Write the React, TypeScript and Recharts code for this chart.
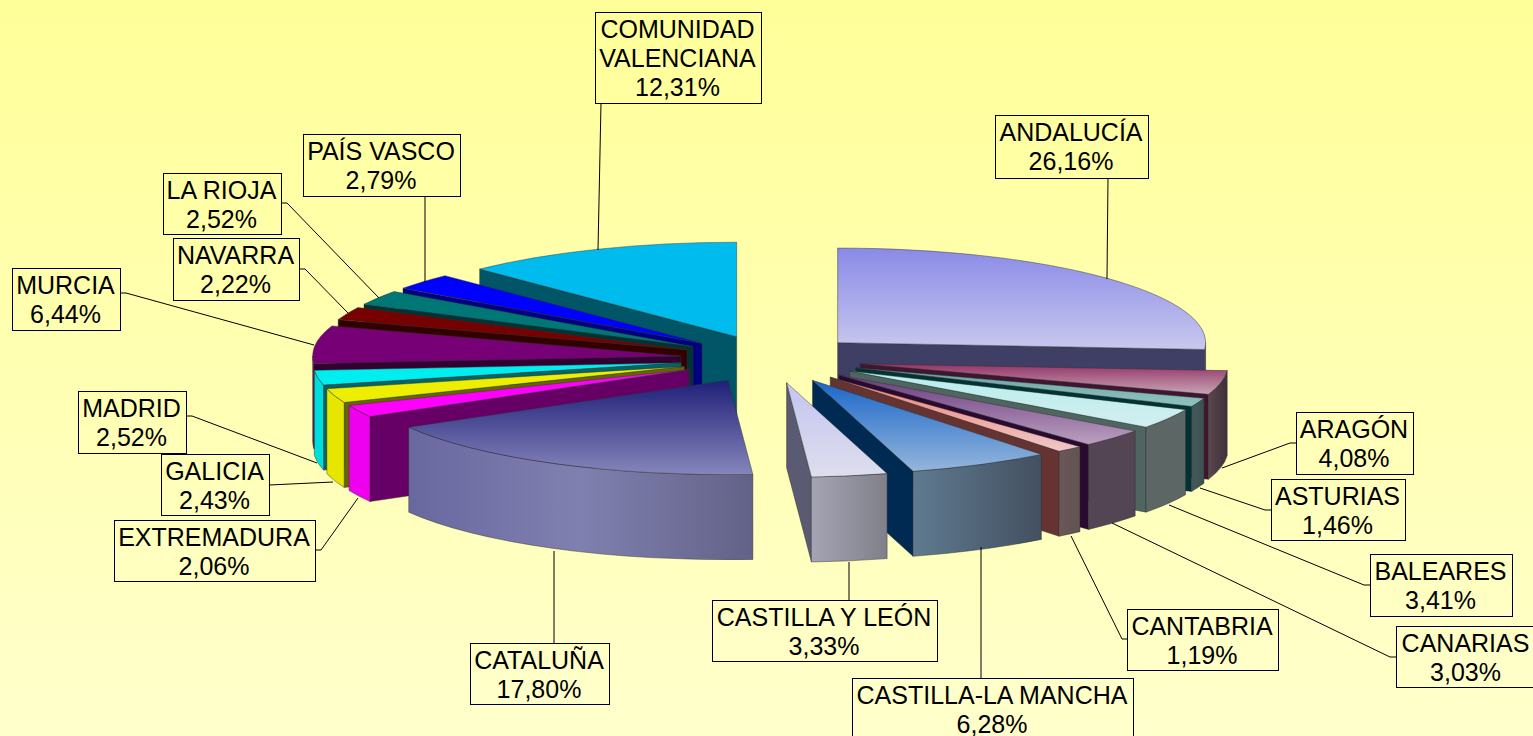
import { PieChart, Pie } from 'recharts';

const REGIONS = [
  'ANDALUCÍA', 'ARAGÓN', 'ASTURIAS', 'BALEARES', 'CANARIAS', 'CANTABRIA',
  'CASTILLA-LA MANCHA', 'CASTILLA Y LEÓN', 'CATALUÑA', 'EXTREMADURA', 'GALICIA',
  'MADRID', 'MURCIA', 'NAVARRA', 'LA RIOJA', 'PAÍS VASCO', 'COMUNIDAD VALENCIANA',
];
const SHARES = [
  26.16, 4.08, 1.46, 3.41, 3.03, 1.19, 6.28, 3.33, 17.8, 2.06, 2.43, 2.52, 6.44, 2.22, 2.52, 2.79,
  12.31,
];
const pieData = REGIONS.map((name, i) => ({ name, value: SHARES[i] }));

// slices on the right of the pie paint clockwise, the ones on the left counter-clockwise
const RIGHT_COUNT = 8;

const WIDTH = 1533;
const HEIGHT = 736;
const CX = 771;
const CY = 359;
const RADIUS = 368;
const SQUASH = 0.257;
const EXPLODE_X = 91;
const EXPLODE_Y = 24;
const DEPTH = 85;

const SLICE_STYLES = [
  { top: ['#8a8ae8', '#c8c8ee'], wall: ['#3f3f66', '#3f3f66'], cut: '#3f3f66' },
  { top: ['#933366', '#c8a4b4'], wall: ['#5a464e', '#40303a'], cut: '#3f1530' },
  { top: ['#66a0a0', '#8fc4c0'], wall: ['#44585a', '#3c5250'], cut: '#003333' },
  { top: ['#b8eeee', '#d2eeee'], wall: ['#5c6664', '#5c6664'], cut: '#4f6660' },
  { top: ['#6a3a80', '#bca0c0'], wall: ['#544555', '#544555'], cut: '#2a0a30' },
  { top: ['#f08070', '#eec8c8'], wall: ['#6a5858', '#625250'], cut: '#663333' },
  { top: ['#1a66c8', '#94b6dc'], wall: ['#5f7a90', '#435060'], cut: '#002a52' },
  { top: ['#c4c4f0', '#dedeee'], wall: ['#a4a4b4', '#80808a'], cut: '#5a5a72' },
  { top: ['#1f1f78', '#8686bc'], wall: ['#6868a0', '#8080b0', '#626288'], cut: '#333366' },
  { top: ['#ff00ff', '#ff00ff'], wall: ['#ee00ee', '#ee00ee'], cut: '#660066' },
  { top: ['#eeee00', '#eeee00'], wall: ['#e6e600', '#e6e600'], cut: '#666600' },
  { top: ['#00eeee', '#00eeee'], wall: ['#00dddd', '#00dddd'], cut: '#006666' },
  { top: ['#770077', '#770077'], wall: ['#660066', '#660066'], cut: '#330033' },
  { top: ['#770000', '#770000'], wall: ['#660000', '#660000'], cut: '#330000' },
  { top: ['#007777', '#007777'], wall: ['#006666', '#006666'], cut: '#003333' },
  { top: ['#0000ff', '#0000ff'], wall: ['#0000dd', '#0000dd'], cut: '#000080' },
  { top: ['#00bbee', '#00bbee'], wall: ['#005666', '#005666'], cut: '#005666' },
];

// box: x, y, width, height; leader: polyline from the box to the slice
const LABEL_LAYOUT = [
  { box: [995, 115, 153, 63], leader: [[1108, 178], [1107, 279]] },
  { box: [1296, 412, 117, 62], leader: [[1296, 443], [1290, 443], [1222, 468]] },
  { box: [1271, 479, 134, 61], leader: [[1271, 510], [1265, 510], [1200, 488]] },
  { box: [1370, 554, 142, 62], leader: [[1370, 585], [1364, 585], [1169, 505]] },
  { box: [1396, 626, 140, 61], leader: [[1396, 657], [1390, 657], [1112, 523]] },
  { box: [1127, 609, 151, 61], leader: [[1127, 639], [1122, 639], [1071, 536]] },
  { box: [852, 678, 281, 64], leader: [[981, 678], [981, 547]] },
  { box: [712, 600, 225, 61], leader: [[849, 600], [849, 562]] },
  { box: [470, 643, 139, 61], leader: [[554, 643], [554, 551]] },
  { box: [114, 520, 201, 61], leader: [[315, 550], [321, 550], [358, 498]] },
  { box: [161, 454, 108, 61], leader: [[269, 485], [333, 482]] },
  { box: [78, 391, 108, 62], leader: [[186, 416], [192, 416], [317, 463]] },
  { box: [12, 268, 108, 62], leader: [[120, 293], [126, 293], [314, 345]] },
  { box: [173, 238, 126, 62], leader: [[299, 269], [305, 269], [348, 313]] },
  { box: [163, 173, 118, 61], leader: [[281, 203], [287, 203], [379, 298]] },
  { box: [303, 134, 157, 62], leader: [[425, 196], [425, 282]] },
  { box: [595, 12, 166, 91], leader: [[601, 103], [598, 250]] },
];

const NAME_LINES: Record<string, string[]> = {
  'COMUNIDAD VALENCIANA': ['COMUNIDAD', 'VALENCIANA'],
};

const inRightGroup = (i: number) => i < RIGHT_COUNT;
const toRad = (deg: number) => (deg * Math.PI) / 180;

// front facing part of the rim, angles are the library's (counter-clockwise from 3 o'clock)
function frontArc(lo: number, hi: number) {
  for (const [a, b] of [[-180, 0], [180, 360]]) {
    const from = Math.max(lo, a);
    const to = Math.min(hi, b);
    if (to > from) return [from, to];
  }
  return null;
}

function Slice3D(props: any, rightSide: boolean) {
  const i = REGIONS.indexOf(props.name);
  if (i < 0 || inRightGroup(i) !== rightSide) return <g />;
  const style = SLICE_STYLES[i];
  const lo = Math.min(props.startAngle, props.endAngle);
  const hi = Math.max(props.startAngle, props.endAngle);
  const mid = toRad((lo + hi) / 2);
  const ax = props.cx + EXPLODE_X * Math.cos(mid);
  const ay = props.cy - EXPLODE_Y * Math.sin(mid);
  const rx = props.outerRadius;
  const ry = rx * SQUASH;
  const pt = (deg: number, dz = 0) =>
    `${ax + rx * Math.cos(toRad(deg))} ${ay - ry * Math.sin(toRad(deg)) + dz}`;
  const ell = `A ${rx} ${ry} 0 0`;
  const topId = `top-${i}`;
  const wallId = `wall-${i}`;
  const edge = { stroke: '#303030', strokeWidth: 0.6, strokeOpacity: 0.75 };

  const radial = (deg: number) =>
    `M ${ax} ${ay} L ${pt(deg)} L ${pt(deg, DEPTH)} L ${ax} ${ay + DEPTH} Z`;
  const showLo = Math.sin(toRad(lo - 90)) < -0.001;
  const showHi = Math.sin(toRad(hi + 90)) < -0.001;
  const arc = frontArc(lo, hi);

  return (
    <g>
      <defs>
        <linearGradient id={topId} x1="0" y1="0" x2="0" y2="1">
          <stop offset="0%" stopColor={style.top[0]} />
          <stop offset="100%" stopColor={style.top[1]} />
        </linearGradient>
        <linearGradient id={wallId} x1="0" y1="0" x2="1" y2="0">
          {style.wall.map((c, k) => (
            <stop key={k} offset={`${(k / (style.wall.length - 1)) * 100}%`} stopColor={c} />
          ))}
        </linearGradient>
      </defs>
      {showLo && <path d={radial(lo)} fill={style.cut} {...edge} />}
      {showHi && <path d={radial(hi)} fill={style.cut} {...edge} />}
      {arc && (
        <path
          d={`M ${pt(arc[0])} ${ell} 0 ${pt(arc[1])} L ${pt(arc[1], DEPTH)} ${ell} 1 ${pt(arc[0], DEPTH)} Z`}
          fill={`url(#${wallId})`}
          {...edge}
        />
      )}
      <path d={`M ${ax} ${ay} L ${pt(lo)} ${ell} 0 ${pt(hi)} Z`} fill={`url(#${topId})`} {...edge} />
    </g>
  );
}

function SliceLabel(props: any, rightSide: boolean) {
  const i = REGIONS.indexOf(props.name);
  if (i < 0 || inRightGroup(i) !== rightSide) return <g />;
  const { box, leader } = LABEL_LAYOUT[i];
  const lines = [
    ...(NAME_LINES[props.name] ?? [props.name]),
    `${SHARES[i].toFixed(2).replace('.', ',')}%`,
  ];
  return (
    <g>
      <polyline
        points={leader.map((p) => p.join(',')).join(' ')}
        fill="none"
        stroke="#000"
        strokeWidth={1}
      />
      <rect x={box[0] + 0.5} y={box[1] + 0.5} width={box[2]} height={box[3]} fill="none" stroke="#000" strokeWidth={1} />
      {lines.map((line, k) => (
        <text
          key={k}
          x={box[0] + box[2] / 2 - 0.5}
          y={box[1] + 26 + k * 29}
          textAnchor="middle"
          fontFamily="'Liberation Sans', Arial, sans-serif"
          fontSize={25}
          fill="#000"
        >
          {line}
        </text>
      ))}
    </g>
  );
}

export default function App() {
  return (
    <div
      style={{
        width: WIDTH,
        height: HEIGHT,
        overflow: 'hidden',
        background: 'linear-gradient(to bottom, #ffff99, #ffffcc)',
      }}
    >
      <style>{'body{margin:0;overflow:hidden}'}</style>
      <PieChart width={WIDTH} height={HEIGHT} margin={{ top: 0, right: 0, bottom: 0, left: 0 }}>
        <Pie
          data={pieData}
          dataKey="value"
          nameKey="name"
          cx={CX}
          cy={CY}
          outerRadius={RADIUS}
          startAngle={90}
          endAngle={-270}
          isAnimationActive={false}
          shape={(p: any) => Slice3D(p, true)}
          label={(p: any) => SliceLabel(p, true)}
          labelLine={false}
        />
        <Pie
          data={[...pieData].reverse()}
          dataKey="value"
          nameKey="name"
          cx={CX}
          cy={CY}
          outerRadius={RADIUS}
          startAngle={90}
          endAngle={450}
          isAnimationActive={false}
          shape={(p: any) => Slice3D(p, false)}
          label={(p: any) => SliceLabel(p, false)}
          labelLine={false}
        />
      </PieChart>
    </div>
  );
}
